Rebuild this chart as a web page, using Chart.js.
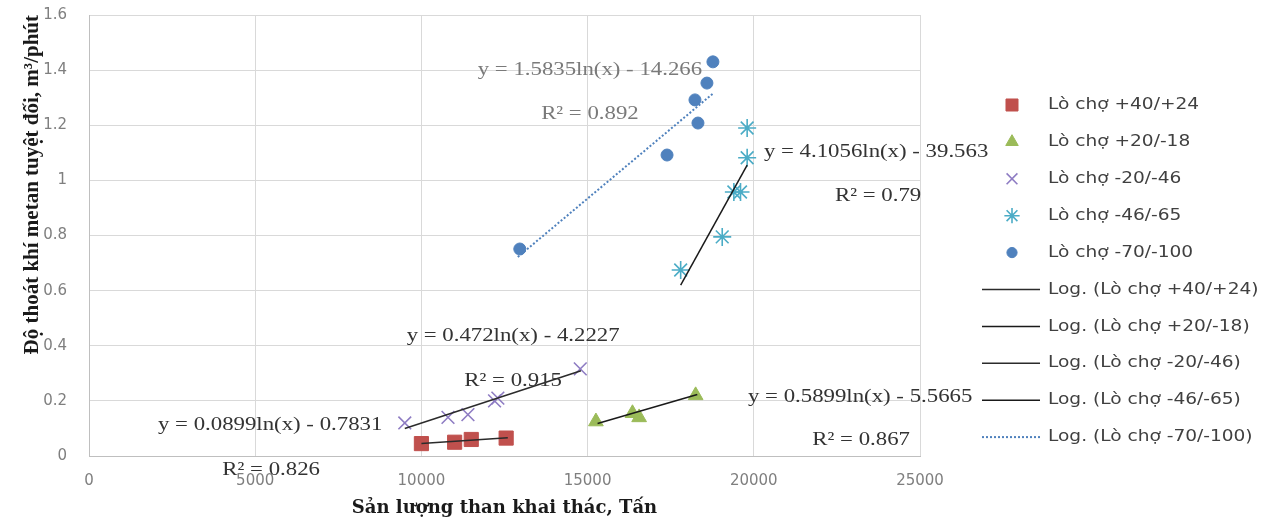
<!DOCTYPE html>
<html><head><meta charset="utf-8">
<script src="https://cdn.jsdelivr.net/npm/chart.js@4.4.1/dist/chart.umd.min.js"></script>
<style>html,body{margin:0;padding:0;background:#fff}#wrap{width:1261px;height:527px;position:relative}</style>
</head><body><div id="wrap"><canvas id="c"></canvas></div>
<script>
// ---- data ----
const seriesNames = ['Lò chợ +40/+24','Lò chợ +20/-18','Lò chợ -20/-46','Lò chợ -46/-65','Lò chợ -70/-100'];
const trendNames = ['Log. (Lò chợ +40/+24)','Log. (Lò chợ +20/-18)','Log. (Lò chợ -20/-46)','Log. (Lò chợ -46/-65)','Log. (Lò chợ -70/-100)'];

const s1X = [10000, 11000, 11500, 12550];
const s1Y = [0.045, 0.05, 0.06, 0.065];
const s2X = [15250, 16350, 16550, 18250];
const s2Y = [0.125, 0.155, 0.14, 0.22];
const s3X = [9500, 10800, 11400, 12200, 12300, 14780];
const s3Y = [0.12, 0.14, 0.15, 0.2, 0.21, 0.316];
const s4X = [17800, 19050, 19400, 19600, 19800, 19800];
const s4Y = [0.675, 0.795, 0.958, 0.958, 1.082, 1.19];
const s5X = [12960, 17390, 18230, 18320, 18590, 18770];
const s5Y = [0.751, 1.092, 1.292, 1.208, 1.353, 1.43];

// trendline end points as seen in the picture
const t1X = [10000, 12600]; const t1Y = [0.045, 0.066];
const t2X = [15300, 18300]; const t2Y = [0.118, 0.223];
const t3X = [9500, 14800];  const t3Y = [0.10, 0.309];
const t4X = [17800, 19800]; const t4Y = [0.62, 1.055];
const t5X = [12900, 18800]; const t5Y = [0.722, 1.318];

// trendline labels and their anchors (data units)
const labelTexts = ['y = 1.5835ln(x) - 14.266','R² = 0.892','y = 4.1056ln(x) - 39.563','R² = 0.79',
  'y = 0.472ln(x) - 4.2227','R² = 0.915','y = 0.0899ln(x) - 0.7831','R² = 0.826','y = 0.5899ln(x) - 5.5665','R² = 0.867'];
const labelX = [15070, 15070, 23680, 23740, 12760, 12760, 5450, 5480, 23200, 23230];
const labelY = [1.40, 1.241, 1.103, 0.943, 0.435, 0.272, 0.112, -0.051, 0.214, 0.058];
const labelGray = [true, true, false, false, false, false, false, false, false, false];

const xTickLabels = ['0','5000','10000','15000','20000','25000'];
const yTickLabels = ['0','0.2','0.4','0.6','0.8','1','1.2','1.4','1.6'];

const xTitle = 'Sản lượng than khai thác, Tấn';
const yTitle = 'Độ thoát khí metan tuyệt đối, m³/phút';

// ---- build ----
const pts = (xs, ys) => xs.map((x, i) => ({x, y: ys[i]}));
const markerStyles = [
  {pointStyle:'rect', radius:10, bg:'#C0504D', bc:'#C0504D', bw:1},
  {pointStyle:'triangle', radius:8.5, bg:'#9BBB59', bc:'#9BBB59', bw:1},
  {pointStyle:'crossRot', radius:9, bg:'#8E7CC3', bc:'#8E7CC3', bw:1.6},
  {pointStyle:'star', radius:9, bg:'#4BACC6', bc:'#4BACC6', bw:1.6},
  {pointStyle:'circle', radius:6, bg:'#4F81BD', bc:'#4F81BD', bw:1}
];
const lineStyles = [
  {color:'#2b2b2b', width:1.5, dash:[]},
  {color:'#1a1a1a', width:1.5, dash:[]},
  {color:'#2b2b2b', width:1.5, dash:[]},
  {color:'#1a1a1a', width:1.5, dash:[]},
  {color:'#4F81BD', width:2, dash:[2,2]}
];
const sX = [s1X,s2X,s3X,s4X,s5X], sY = [s1Y,s2Y,s3Y,s4Y,s5Y];
const tX = [t1X,t2X,t3X,t4X,t5X], tY = [t1Y,t2Y,t3Y,t4Y,t5Y];

const datasets = [];
seriesNames.forEach((n, i) => {
  const m = markerStyles[i];
  datasets.push({label:n, data:pts(sX[i], sY[i]), pointStyle:m.pointStyle, pointRadius:m.radius,
    pointHoverRadius:m.radius, backgroundColor:m.bg, borderColor:m.bc, pointBorderWidth:m.bw, showLine:false, order:2});
});
trendNames.forEach((n, i) => {
  const l = lineStyles[i];
  datasets.push({label:n, data:pts(tX[i], tY[i]), showLine:true, pointRadius:0, pointHoverRadius:0,
    borderColor:l.color, borderWidth:l.width, borderDash:l.dash, fill:false, order:1});
});

const SERIF = '"Liberation Serif", "Times New Roman", serif';
const SANS = '"DejaVu Sans", sans-serif';

const labelsPlugin = {
  id:'trendLabels',
  afterDatasetsDraw(chart){
    const {ctx, scales:{x, y}} = chart;
    ctx.save();
    ctx.font = '19px ' + SERIF;
    ctx.textAlign = 'center';
    ctx.textBaseline = 'middle';
    labelTexts.forEach((t, i) => {
      const px = x.getPixelForValue(labelX[i]);
      const py = y.getPixelForValue(labelY[i]);
      ctx.save();
      ctx.translate(px, py);
      ctx.scale(1.2, 1);
      ctx.fillStyle = labelGray[i] ? '#7a7a7a' : '#333333';
      ctx.fillText(t, 0, 0);
      ctx.restore();
    });
    ctx.restore();
  }
};

const legendPlugin = {
  id:'sideLegend',
  afterDraw(chart){
    const ctx = chart.ctx;
    const top = 105, step = 36.9, mx = 1012, lx0 = 982, lx1 = 1040, tx = 1048;
    ctx.save();
    ctx.font = '16px ' + SANS;
    ctx.textBaseline = 'middle';
    ctx.textAlign = 'left';
    const items = [];
    seriesNames.forEach((n, i) => items.push({type:'m', i, text:n}));
    trendNames.forEach((n, i) => items.push({type:'l', i, text:n}));
    items.forEach((it, k) => {
      const yy = top + k * step;
      if (it.type === 'm') {
        const m = markerStyles[it.i];
        ctx.fillStyle = m.bg; ctx.strokeStyle = m.bc; ctx.lineWidth = m.bw;
        Chart.helpers.drawPoint(ctx, {pointStyle:m.pointStyle, radius:m.radius * 0.85, rotation:0, borderWidth:m.bw}, mx, yy);
      } else {
        const l = lineStyles[it.i];
        ctx.strokeStyle = l.color; ctx.lineWidth = l.width; ctx.setLineDash(l.dash);
        ctx.beginPath(); ctx.moveTo(lx0, yy); ctx.lineTo(lx1, yy); ctx.stroke();
        ctx.setLineDash([]);
      }
      ctx.save();
      ctx.translate(tx, yy);
      ctx.scale(1.16, 1);
      ctx.fillStyle = '#404040';
      ctx.fillText(it.text, 0, 0);
      ctx.restore();
    });
    ctx.restore();
  }
};

new Chart(document.getElementById('c'), {
  type:'scatter',
  data:{datasets},
  options:{
    responsive:true, maintainAspectRatio:false, animation:false,
    layout:{padding:{left:0, top:15, right:341, bottom:0}},
    plugins:{legend:{display:false}, tooltip:{enabled:false}},
    scales:{
      x:{type:'linear', min:0, max:25000,
        ticks:{stepSize:5000, color:'#7f7f7f', font:{family:SANS, size:15}, padding:16,
          callback:(v, i) => xTickLabels[i]},
        grid:{color:'#d9d9d9', drawTicks:false, lineWidth:1},
        border:{color:'#bfbfbf', width:1},
        title:{display:true, text:xTitle, color:'#1a1a1a', font:{family:'"DejaVu Serif", serif', size:18, weight:'bold'}, padding:{top:0, bottom:8}},
        afterFit:(s) => { s.height = 71; }
      },
      y:{type:'linear', min:0, max:1.6,
        ticks:{stepSize:0.2, color:'#7f7f7f', font:{family:SANS, size:15}, padding:0,
          callback:(v, i) => yTickLabels[i]},
        grid:{color:'#d9d9d9', drawTicks:true, tickLength:22, tickColor:'rgba(0,0,0,0)', lineWidth:1},
        border:{color:'#bfbfbf', width:1},
        title:{display:true, text:yTitle, align:'end', color:'#1a1a1a', font:{family:SERIF, size:21, weight:'bold'}, padding:{top:20, bottom:0}},
        afterFit:(s) => { s.width = 89; }
      }
    }
  },
  plugins:[labelsPlugin, legendPlugin]
});
</script>
</body></html>
